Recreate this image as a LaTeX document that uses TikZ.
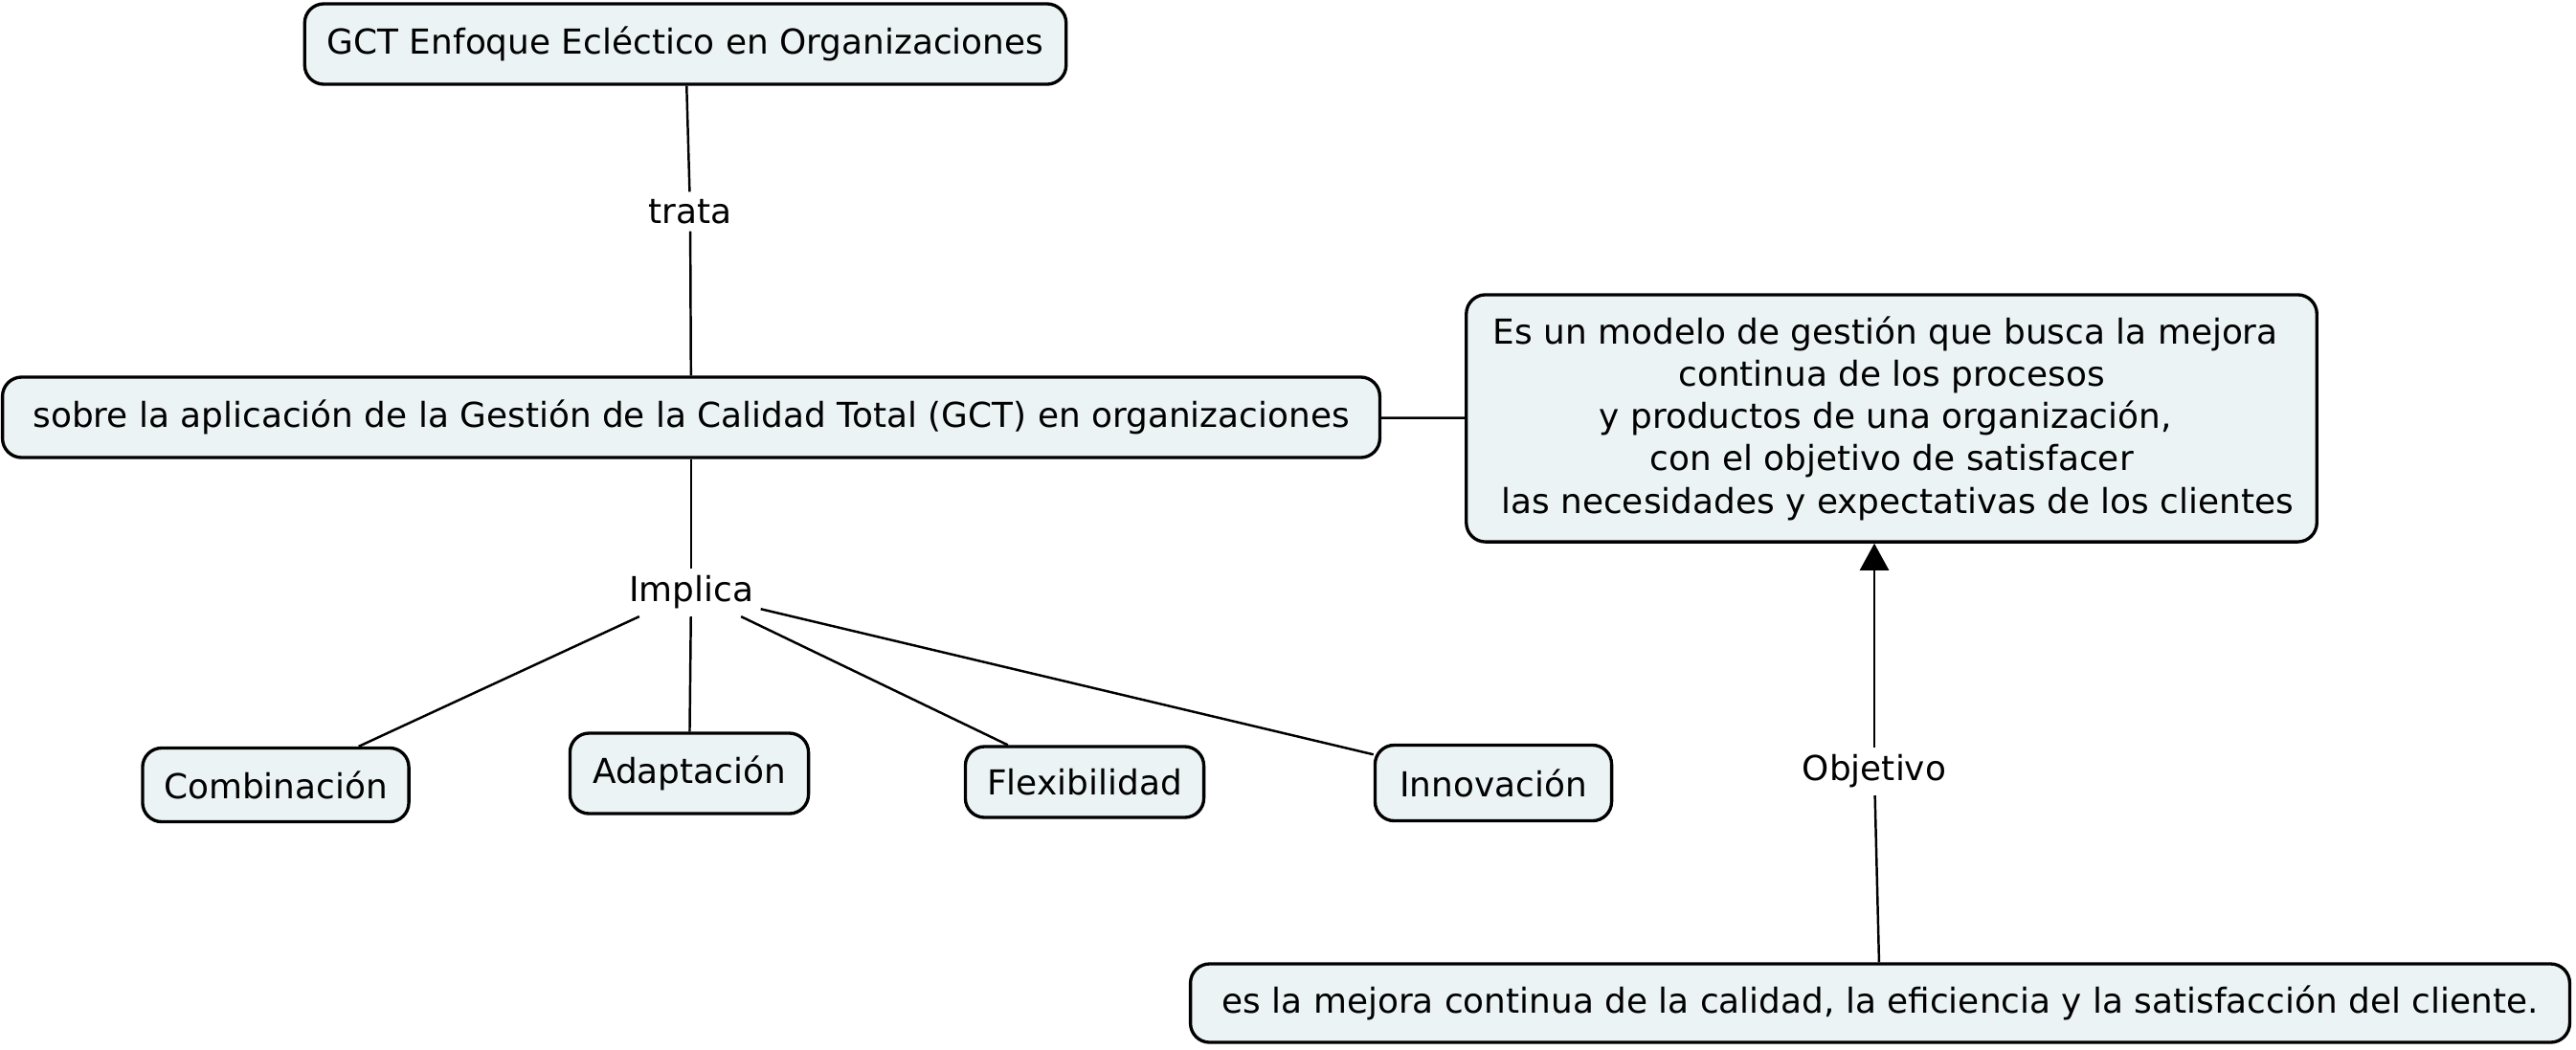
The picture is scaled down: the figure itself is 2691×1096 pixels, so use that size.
\documentclass[tikz,border=0pt]{standalone}
\usepackage{fontspec}
\setmainfont{DejaVu Sans}
\usepackage{tikz}
\usetikzlibrary{arrows.meta,positioning}

\definecolor{cmapfill}{HTML}{EBF3F5}

\begin{document}
\begin{tikzpicture}[
        x=0.01cm, y=-0.01cm,
        font=\fontsize{10.2}{12.6}\selectfont,
        % Block styles
        concept/.style={
            rectangle,
            draw=black,
            line width=0.95pt,
            rounded corners=0.2cm,
            minimum height=0.84cm,
            inner sep=2pt,
            align=center,
            fill=cmapfill
        },
        linkword/.style={
            rectangle,
            fill=white,
            inner sep=2pt
        },
        link/.style={-, line width=0.7pt},
        linkarrow/.style={-{Triangle[width=0.3cm,length=0.28cm]}, line width=0.7pt}
    ]
    \useasboundingbox (0,0) rectangle (2691,1096);

    % Top
    \node[concept, minimum width=7.95cm] (gct) at (716,46) {GCT Enfoque Ecléctico en Organizaciones};
    \node[linkword] (trata) at (721,221) {trata};

    % Main concept
    \node[concept, minimum width=14.38cm] (sobre) at (722,436) {sobre la aplicación de la Gestión de la Calidad Total (GCT) en organizaciones};
    \node[concept, minimum width=8.88cm, minimum height=2.58cm] (modelo) at (1976,437)
        {Es un modelo de gestión que busca la mejora\rule{0.35em}{0pt}\\continua de los procesos\\y productos de una organización,\rule{0.35em}{0pt}\\con el objetivo de satisfacer\\\rule{0.35em}{0pt}las necesidades y expectativas de los clientes};

    % Implica
    \node[linkword] (implica) at (722,619) {Implica};
    \node[concept, minimum width=2.78cm, minimum height=0.77cm] (comb) at (288,820) {Combinación};
    \node[concept, minimum width=2.49cm, minimum height=0.84cm] (adap) at (720,808) {Adaptación};
    \node[concept, minimum width=2.49cm, minimum height=0.74cm] (flex) at (1133,817) {Flexibilidad};
    \node[concept, minimum width=2.47cm, minimum height=0.79cm] (inno) at (1560,818) {Innovación};

    % Objetivo
    \node[linkword] (objetivo) at (1958,806) {Objetivo};
    \node[concept, minimum width=14.4cm, minimum height=0.82cm] (mejora) at (1964,1048) {es la mejora continua de la calidad, la eficiencia y la satisfacción del cliente.};

    % Connections
    \draw[link] (gct) -- (trata);
    \draw[link] (trata) -- (sobre);
    \draw[link] (sobre) -- (modelo);
    \draw[link] (sobre) -- (implica);
    \draw[link] (implica) -- (comb);
    \draw[link] (implica) -- (adap);
    \draw[link] (implica) -- (flex);
    \draw[link] (implica) -- (inno);
    \draw[link] (mejora) -- (objetivo);
    \draw[linkarrow] (objetivo) -- (modelo.south -| objetivo);

\end{tikzpicture}
\end{document}
